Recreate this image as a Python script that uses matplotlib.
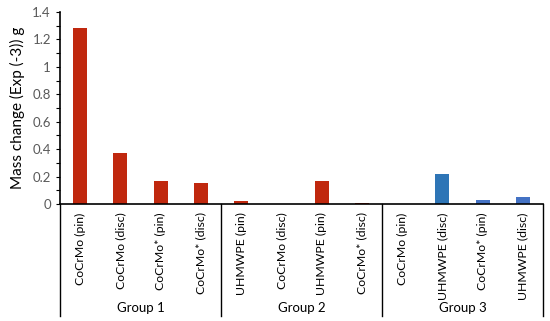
import matplotlib
matplotlib.use("Agg")
import matplotlib.pyplot as plt
from matplotlib.ticker import MultipleLocator

categories = ["CoCrMo (pin)", "CoCrMo (disc)", "CoCrMo* (pin)", "CoCrMo* (disc)",
              "UHMWPE (pin)", "CoCrMo (disc)", "UHMWPE (pin)", "CoCrMo* (disc)",
              "CoCrMo (pin)", "UHMWPE (disc)", "CoCrMo* (pin)", "UHMWPE (disc)"]
values = [1.28, 0.37, 0.17, 0.15,
          0.02, 0.0, 0.17, 0.005,
          0.0, 0.22, 0.03, 0.05]
colors = ["#C0280E"] * 8 + ["#4472C4", "#2E75B6", "#4472C4", "#4472C4"]
groups = ["Group 1", "Group 2", "Group 3"]
group_size = 4

plt.rcParams['font.family'] = ['Lato', 'DejaVu Sans']
fig = plt.figure(figsize=(5.5, 3.21), dpi=100)
ax = fig.add_axes([60/550, 1 - 204/321, 483/550, 192/321])

x = list(range(len(categories)))
ax.bar(x, values, width=0.35, color=colors)
ax.set_xlim(-0.5, len(categories) - 0.5)
ax.set_ylim(0, 1.4)
ax.yaxis.set_minor_locator(MultipleLocator(0.1))
ax.set_yticks([0, 0.2, 0.4, 0.6, 0.8, 1.0, 1.2, 1.4])
ax.set_yticklabels(["0", "0.2", "0.4", "0.6", "0.8", "1", "1.2", "1.4"])
ax.tick_params(axis='y', labelsize=9.5, labelcolor="#595959", length=3, width=0.8, color="black")
ax.tick_params(axis='y', which='minor', length=3, width=0.8, color="black")
ax.set_xticks(x)
ax.set_xticklabels(categories, rotation=90, fontsize=8.8)
ax.tick_params(axis='x', length=0, pad=6)
for s in ["top", "right"]:
    ax.spines[s].set_visible(False)
ax.spines["left"].set_linewidth(1.2)
ax.spines["bottom"].set_linewidth(1.2)
ax.set_ylabel("Mass change (Exp (-3)) g", fontsize=11, labelpad=5)

# group separators and labels
trans = ax.get_xaxis_transform()
sep_bottom = -(316 - 204) / 192
for g in range(len(groups) + 1):
    xs = g * group_size - 0.5
    ax.plot([xs, xs], [0, sep_bottom], transform=trans, color="black", lw=1.0, clip_on=False)
for g, name in enumerate(groups):
    xc = g * group_size + (group_size - 1) / 2
    ax.text(xc, -(308 - 204) / 192, name, transform=trans, ha="center", va="center", fontsize=9.5)

fig.savefig("out.png", dpi=100)
